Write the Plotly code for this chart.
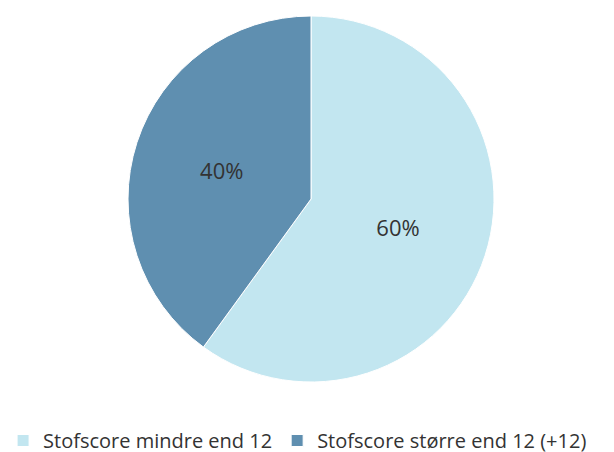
import plotly.graph_objects as go

labels = ["Stofscore mindre end 12", "Stofscore større end 12 (+12)"]
values = [60, 40]
colors = ["#c2e6f0", "#5f8fb0"]

W, H = 614, 452
MB = 60  # bottom margin (px)
ph = H - MB

fig = go.Figure(go.Pie(
    labels=labels,
    values=values,
    sort=False,
    direction="clockwise",
    rotation=0,
    domain=dict(x=[120 / W, 486 / W], y=[(ph - 374) / ph, (ph - 8) / ph]),
    marker=dict(colors=colors, line=dict(color="#ffffff", width=1)),
    textinfo="percent",
    texttemplate="%{percent:.0%}",
    textposition="inside",
    insidetextfont=dict(color="#333333", size=22, family="Open Sans"),
    hoverinfo="label+percent",
))

fig.update_layout(
    width=W, height=H,
    margin=dict(l=0, r=0, t=0, b=MB, autoexpand=False),
    paper_bgcolor="white",
    plot_bgcolor="white",
    font=dict(family="Open Sans", size=20, color="#333333"),
    showlegend=True,
    legend=dict(
        orientation="h",
        x=-0.008, xanchor="left",
        y=-21 / ph, yanchor="top",
        font=dict(size=20, color="#333333"),
        itemwidth=30,
        traceorder="normal",
    ),
)

fig.write_html("out.html")
